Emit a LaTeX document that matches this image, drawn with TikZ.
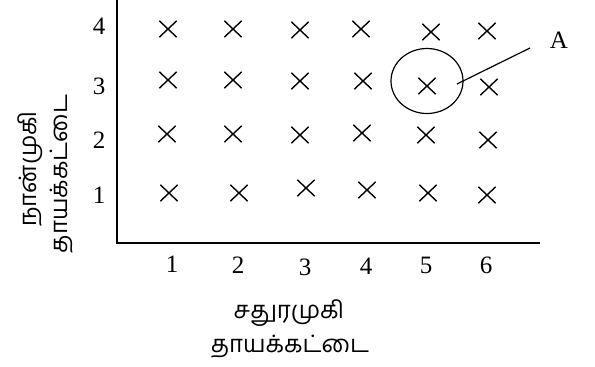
\documentclass[tikz,border=0pt]{standalone}
\usepackage{fontspec}
\setmainfont{Liberation Serif}
\newfontfamily\tamil[Script=Tamil]{Hind Madurai}
\usetikzlibrary{shapes.misc,shapes.geometric}
\begin{document}
\begin{tikzpicture}[x=1pt,y=-1pt,
  axis/.style={line width=1.7pt},
  cross/.style={draw, cross out, line width=1.4pt, minimum width=16pt, minimum height=15pt, inner sep=0pt},
  num/.style={font=\fontsize{25}{25}\selectfont, inner sep=0pt},
  tam/.style={font=\tamil\fontsize{24}{24}\selectfont, inner sep=0pt}]
\useasboundingbox (0,0) rectangle (595,367);
% axes
\coordinate (top) at (117,0);
\coordinate (origin) at (117,243);
\coordinate (right) at (540,243);
\draw[axis] (top) -- (origin) -- (right);
% y labels
\node[num] (y4) at (99,26) {4};
\node[num] (y3) at (99,86) {3};
\node[num] (y2) at (99,140) {2};
\node[num] (y1) at (99,195) {1};
% x labels
\node[num] (x1) at (172,264) {1};
\node[num] (x2) at (238,265) {2};
\node[num] (x3) at (305,267) {3};
\node[num] (x4) at (366,266) {4};
\node[num] (x5) at (426,265) {5};
\node[num] (x6) at (486,265) {6};
% crosses row 4
\node[cross] (c41) at (168,29) {};
\node[cross] (c42) at (233,29) {};
\node[cross] (c43) at (300,30) {};
\node[cross] (c44) at (361,29) {};
\node[cross] (c45) at (431,32) {};
\node[cross] (c46) at (487,31) {};
% row 3
\node[cross] (c31) at (168,80) {};
\node[cross] (c32) at (233,80) {};
\node[cross] (c33) at (300,81) {};
\node[cross] (c34) at (363,81) {};
\node[cross] (c35) at (427,86) {};
\node[cross] (c36) at (489,87) {};
% row 2
\node[cross] (c21) at (167,134) {};
\node[cross] (c22) at (233,134) {};
\node[cross] (c23) at (300,135) {};
\node[cross] (c24) at (362,133) {};
\node[cross] (c25) at (426,135) {};
\node[cross] (c26) at (488,140) {};
% row 1
\node[cross] (c11) at (169,193) {};
\node[cross] (c12) at (239,193) {};
\node[cross] (c13) at (306,188) {};
\node[cross] (c14) at (367,190) {};
\node[cross] (c15) at (428,193) {};
\node[cross] (c16) at (487,195) {};
% circle and label A
\node[draw, ellipse, line width=1.2pt, minimum width=72pt, minimum height=65pt, inner sep=0pt] (circ) at (427,81) {};
\coordinate (pin) at (457,84);
\coordinate (lend) at (530,48);
\draw[line width=1.2pt] (pin) -- (lend);
\node[num] (A) at (559,40) {A};
% axis titles
\node[tam, rotate=90] (yl1) at (30,169) {நான்முகி};
\node[tam, rotate=90] (yl2) at (62,174) {தாயக்கட்டை};
\node[tam] (xl1) at (289,313) {சதுரமுகி};
\node[tam] (xl2) at (290,347) {தாயக்கட்டை};
\end{tikzpicture}
\end{document}
